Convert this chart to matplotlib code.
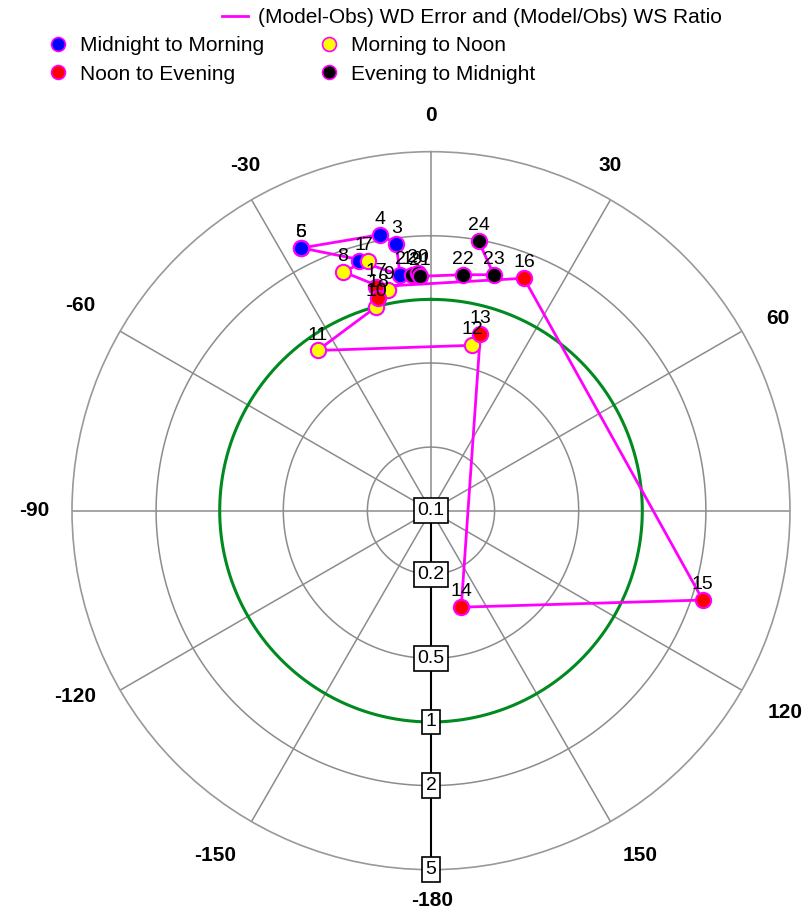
import numpy as np
import matplotlib.pyplot as plt
from matplotlib.lines import Line2D

# ------------------------------------------------ Data -------------------------------------------------
hours = np.arange(1, 25)
wd_error = np.array([-16.0, -7.5, -7.4, -10.5, -26.4, -26.3, -14.2, -20.3, -11.0, -15.0, -35.3, 13.9,
                     15.6, 162.6, 108.2, 21.8, -13.7, -14.0, -4.6, -3.2, -2.7, 7.8, 14.9, 10.0])
ws_ratio = np.array([1.69, 1.335, 1.87, 2.13, 2.44, 2.44, 1.65, 1.61, 1.158, 0.998, 0.849, 0.640,
                     0.741, 0.301, 2.26, 1.53, 1.234, 1.086, 1.31, 1.336, 1.29, 1.34, 1.43, 1.98])

periods = ["Midnight to Morning", "Morning to Noon", "Noon to Evening", "Evening to Midnight"]
period_colors = ["#0000FF", "#FFFF00", "#FF0000", "#000000"]

angle_labels = ["0", "30", "60", "120", "150", "-180", "-150", "-120", "-90", "-60", "-30"]
# label anchor points (axes fraction) around the rim
angle_label_xy = [(0.500, 1.050), (0.749, 0.981), (0.983, 0.767), (0.993, 0.219), (0.791, 0.020),
                  (0.501, -0.043), (0.199, 0.020), (0.004, 0.241), (-0.052, 0.500), (0.011, 0.786),
                  (0.241, 0.981)]
ring_values = [0.1, 0.2, 0.5, 1, 2, 5]
spoke_angles = np.arange(0, 360, 30)

FONT = 'Liberation Sans'

# ------------------------------------------------ Figure -----------------------------------------------
fig = plt.figure(figsize=(8.09, 9.17), dpi=100)
ax = fig.add_axes([0.089, 0.0516, 0.8875, 0.783], projection='polar')
ax.set_theta_zero_location('N')
ax.set_theta_direction(-1)
ax.set_rscale('log')
ax.set_rlim(0.1, 5)

ax.grid(False)
ax.spines['polar'].set_color('#999999')
ax.spines['polar'].set_linewidth(1.2)
ax.set_yticks([])
ax.set_xticks([])

for lab, (xa, ya) in zip(angle_labels, angle_label_xy):
    ax.text(xa, ya, lab, transform=ax.transAxes, ha='center', va='center',
            fontsize=15, fontweight='bold', family=FONT)

theta_full = np.linspace(0, 2 * np.pi, 400)
# spokes and rings
for a in spoke_angles:
    ax.plot([np.deg2rad(a)] * 2, [0.1, 5], color='#8c8c8c', lw=1.1, zorder=1)
for rv in [0.2, 0.5, 2]:
    ax.plot(theta_full, [rv] * len(theta_full), color='#8c8c8c', lw=1.1, zorder=1)
ax.plot(theta_full, [1] * len(theta_full), color='#008a20', lw=2.2, zorder=2)

# radial axis pointing down with boxed labels
ax.plot([np.pi, np.pi], [0.1, 5], color='black', lw=1.5, zorder=3)
for rv in ring_values:
    ax.text(np.pi, rv, f"{rv:g}", ha='center', va='center', fontsize=14, family=FONT,
            bbox=dict(boxstyle='square,pad=0.2', facecolor='white', edgecolor='black', lw=1.2), zorder=4)

# path through the hours
theta = np.deg2rad(wd_error)
ax.plot(theta, ws_ratio, color='#FF00FF', lw=2, zorder=5)
for i in range(24):
    ax.plot(theta[i], ws_ratio[i], 'o', ms=11, mfc=period_colors[i // 6], mec='#FF00FF', mew=1.5, zorder=6)
    ax.annotate(str(hours[i]), (theta[i], ws_ratio[i]), xytext=(0, 5), textcoords='offset points',
                ha='center', va='bottom', fontsize=14, family=FONT, zorder=7)

# ------------------------------------------------ Legend -----------------------------------------------
line_handle = [Line2D([], [], color='#FF00FF', lw=2)]
fig.legend(line_handle, ["(Model-Obs) WD Error and (Model/Obs) WS Ratio"], loc='center left',
           bbox_to_anchor=(0.2512, 0.9804), frameon=False, handlelength=1.25, handletextpad=0.5,
           prop=dict(family=FONT, size=15))
marker_handles = [Line2D([], [], ls='', marker='o', ms=10, mfc=c, mec='#FF00FF', mew=1.2) for c in period_colors]
order = [0, 2, 1, 3]
fig.legend([marker_handles[k] for k in order], [periods[k] for k in order], loc='center left',
           bbox_to_anchor=(0.0357, 0.9346), ncol=2, frameon=False, handlelength=1.0, columnspacing=2.6,
           handletextpad=0.55, labelspacing=0.46, prop=dict(family=FONT, size=15))

fig.savefig("out.png", dpi=100)
